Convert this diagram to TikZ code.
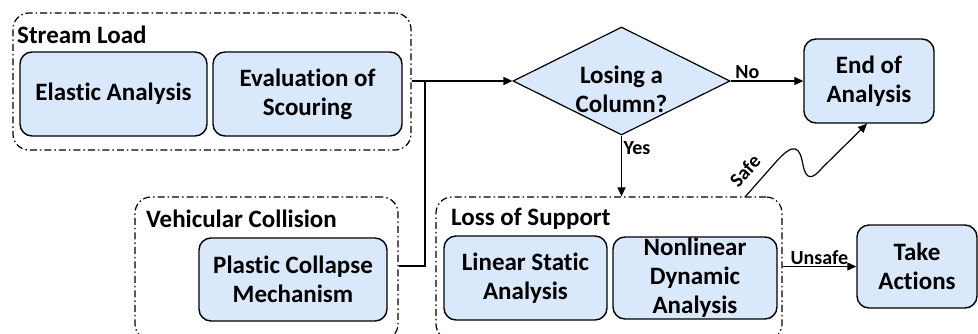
\documentclass[tikz,border=0pt]{standalone}
\usepackage{fontspec}
\setmainfont{Carlito}[Ligatures=NoCommon]
\usetikzlibrary{shapes.geometric,arrows.meta}
\definecolor{boxblue}{HTML}{DAE8FC}
\tikzset{
  grp/.style={draw, rounded corners=16pt, line width=1.2pt,
    dash pattern=on 7pt off 3pt on 1.5pt off 3pt, inner sep=0pt},
  bx/.style={draw, fill=boxblue, rounded corners=12pt, line width=1.4pt,
    inner sep=0pt, align=center, font=\bfseries\fontsize{25}{29}\selectfont},
  glabel/.style={anchor=west, inner sep=0pt, font=\bfseries\fontsize{25}{29}\selectfont},
  elabel/.style={inner sep=1.5pt, font=\bfseries\fontsize{20}{24}\selectfont},
  arr/.style={line width=1.2pt, -{Triangle[length=9pt,width=8pt]}},
  ln/.style={line width=1.2pt}
}
\begin{document}
\begin{tikzpicture}[x=1pt,y=-1pt]
\useasboundingbox (0,0) rectangle (978,333);
% groups
\node[grp, minimum width=398pt, minimum height=137pt] (sgrp) at (212,81.5) {};
\node[glabel] (slab) at (17,35) {Stream Load};
\node[grp, minimum width=263pt, minimum height=143pt] (vgrp) at (266.5,268.5) {};
\node[glabel] (vlab) at (146,219) {Vehicular Collision};
\node[grp, minimum width=346pt, minimum height=143pt] (lgrp) at (609,268.5) {};
\node[glabel] (llab) at (451,219) {Loss of Support};
% boxes
\node[bx, minimum width=187pt, minimum height=84pt] (ea) at (113.5,94) {\raisebox{-3pt}{Elastic Analysis}};
\node[bx, minimum width=189pt, minimum height=84pt] (es) at (307.5,94) {Evaluation of\\Scouring};
\node[bx, minimum width=188pt, minimum height=83pt] (pc) at (293,279.5) {Plastic Collapse\\Mechanism};
\node[bx, minimum width=163pt, minimum height=84pt] (ls) at (525.5,278) {Linear Static\\Analysis};
\node[bx, minimum width=164pt, minimum height=82pt] (nd) at (695,278) {Nonlinear\\Dynamic\\Analysis};
\node[bx, minimum width=130pt, minimum height=84pt] (end) at (869,81) {End of\\Analysis};
\node[bx, minimum width=120pt, minimum height=83pt] (take) at (917,266.5) {Take\\Actions};
% decision
\node[diamond, draw, fill=boxblue, line width=1.2pt, inner sep=0pt,
  minimum width=217pt, minimum height=108pt] (q) at (621.5,81) {};
\node[align=center, inner sep=0pt, font=\bfseries\fontsize{25}{29}\selectfont] (qt) at (621.5,89) {Losing a\\Column?};
% connectors
\draw[arr, line width=1.6pt] (sgrp.east |- q) -- (q.west);
\coordinate (jt) at (425,81);
\coordinate (jb) at (425,266);
\draw[ln] (vgrp.east |- jb) -- (jb) -- (jt);
\draw[arr] (q.east) -- (end.west) node[elabel, pos=0.23, above] (no) {No};
\draw[arr] (q.south) -- (q.south |- lgrp.north) node[elabel, pos=0.2, right] (yes) {Yes};
\draw[arr] (lgrp.east |- take) -- (take.west) node[elabel, midway, above] (uns) {Unsafe};
\coordinate (sf) at (745,197);
\draw[arr] (sf) -- (775,163) .. controls (795,140) and (800,148) .. (803,165)
  .. controls (806,180) and (812,180) .. (822,168) -- (end.south -| 867,0);
\node[elabel, rotate=48] (safe) at (745,171) {Safe};
\end{tikzpicture}
\end{document}
